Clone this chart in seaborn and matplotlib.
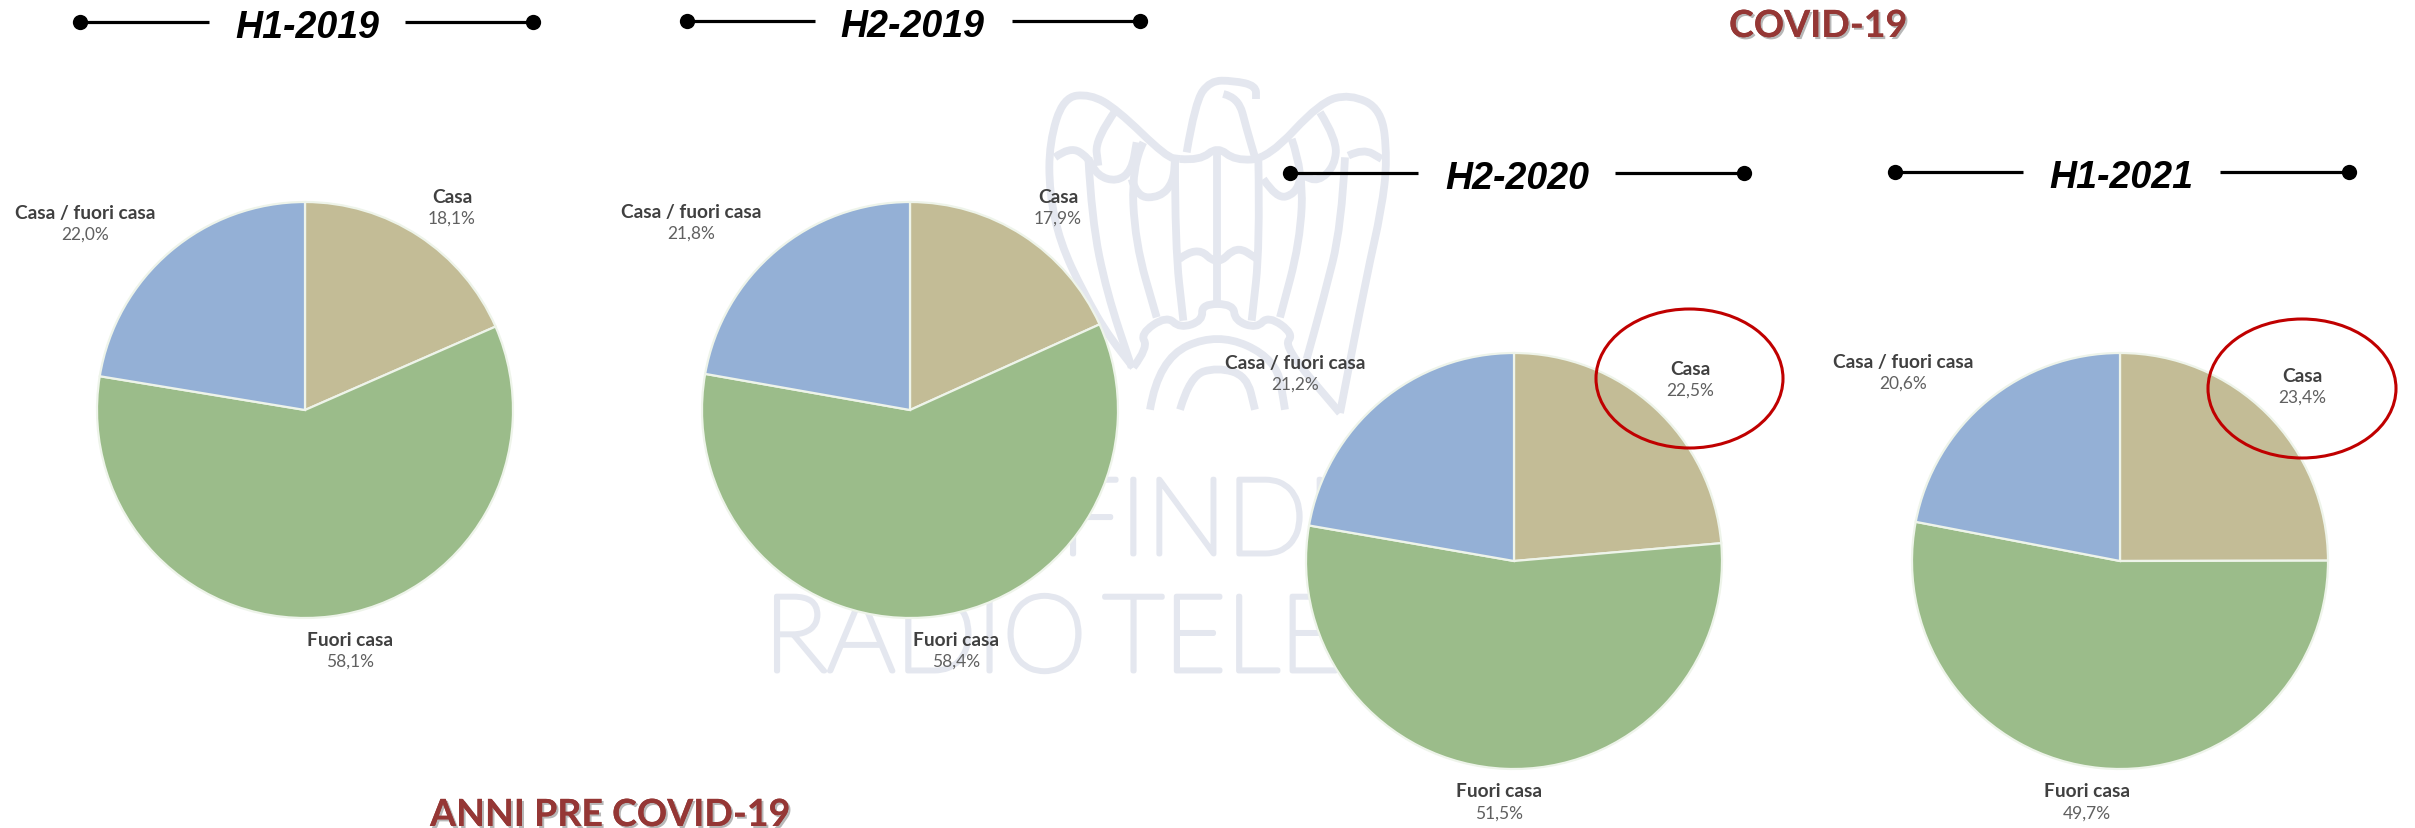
import matplotlib
matplotlib.use("Agg")
import matplotlib.pyplot as plt
import matplotlib.patheffects as pe
from matplotlib.patches import Ellipse, PathPatch
from matplotlib.path import Path
import seaborn as sns

sns.set_theme(style="white")

# ---- data ----
periods = ["H1-2019", "H2-2019", "H2-2020", "H1-2021"]
segments = ["Casa", "Fuori casa", "Casa / fuori casa"]
casa = [18.1, 17.9, 22.5, 23.4]
fuori_casa = [58.1, 58.4, 51.5, 49.7]
casa_fuori = [22.0, 21.8, 21.2, 20.6]
group_labels = ["COVID-19", "ANNI PRE COVID-19"]
colors = sns.color_palette(["#C3BC96", "#9BBC8A", "#94B0D6"])

# ---- layout (pixels of the 2415x829 canvas) ----
W, H = 2415, 829
centers = [(305, 411), (910, 411), (1514, 562), (2120, 562)]
R = 208
header_y = [23, 22, 174, 173]
header_dots = [(80, 533), (687, 1140), (1290, 1744), (1895, 2349)]
header_gap = [(209, 405), (815, 1012), (1418, 1615), (2023, 2220)]
header_text_x = [307, 912, 1517, 2121]
label_pos = [
    [(452, 197), (350, 640), (85, 213)],
    [(1058, 197), (956, 640), (691, 212)],
    [(1690, 369), (1499, 792), (1295, 363)],
    [(2302, 376), (2087, 792), (1903, 362)],
]
ellipses = [(1689.5, 379.5, 187, 139), (2302, 389.5, 188, 139)]
VALUE_DY = 22

WM = "#E4E7EF"
logo_strokes = [
    [(340, 925), (270, 840), (190, 700), (120, 550), (88, 400), (88, 250), (130, 115), (210, 105), (290, 150), (440, 295), (480, 300)],
    [(105, 295), (150, 262), (205, 295), (232, 350), (290, 368), (335, 335), (350, 250)],
    [(290, 150), (225, 240), (235, 320)],
    [(205, 295), (215, 480), (260, 700), (335, 925)],
    [(370, 250), (335, 320), (345, 550), (410, 775)],
    [(335, 360), (350, 415), (420, 415), (460, 370), (465, 300)],
    [(465, 300), (465, 560), (490, 785)],
    [(480, 300), (540, 305), (592, 262), (645, 305), (745, 298), (900, 130), (990, 105), (1085, 150), (1102, 300), (1085, 450), (1040, 650), (960, 1062)],
    [(592, 280), (592, 730)],
    [(715, 300), (720, 560), (695, 785)],
    [(815, 240), (850, 340), (840, 550), (780, 775)],
    [(730, 360), (770, 420), (825, 405), (845, 350)],
    [(900, 160), (950, 240), (945, 320), (895, 368), (850, 350)],
    [(975, 295), (965, 500), (910, 720), (860, 900)],
    [(985, 290), (1030, 268), (1085, 300)],
    [(500, 280), (525, 130), (570, 65), (640, 65), (708, 80), (708, 120)],
    [(610, 105), (655, 115), (680, 210), (705, 295)],
    [(478, 600), (530, 560), (592, 620), (650, 560), (712, 600)],
    [(340, 925), (385, 865), (360, 825), (440, 770), (480, 808), (548, 785), (545, 735), (640, 735), (645, 785), (710, 808), (745, 770), (822, 825), (790, 862), (960, 1062)],
    [(390, 1052), (415, 900), (592, 820), (770, 900), (795, 1052)],
    [(480, 1052), (510, 950), (592, 925), (680, 950), (705, 1052)],
]


def logo_path(stroke):
    pts = [(1020 + x / 3, 60 + y / 3) for x, y in stroke]
    verts, codes = [pts[0]], [Path.MOVETO]
    for i in range(1, len(pts) - 1):
        mid = ((pts[i][0] + pts[i + 1][0]) / 2, (pts[i][1] + pts[i + 1][1]) / 2)
        verts += [pts[i], mid]
        codes += [Path.CURVE3, Path.CURVE3]
    verts.append(pts[-1])
    codes.append(Path.LINETO)
    return Path(verts, codes)


fig = plt.figure(figsize=(W / 100, H / 100), dpi=100, facecolor="white")


def pixel_axes(zorder):
    ax = fig.add_axes([0, 0, 1, 1], zorder=zorder)
    ax.set_xlim(0, W)
    ax.set_ylim(H, 0)
    ax.axis("off")
    ax.patch.set_alpha(0)
    return ax


# watermark behind the pies
bg = pixel_axes(0)
for stroke in logo_strokes:
    bg.add_patch(PathPatch(logo_path(stroke), fill=False, ec=WM, lw=5.6, capstyle="butt", joinstyle="round"))
thick = [pe.withStroke(linewidth=3.5, foreground=WM)]
wm_kw = dict(color=WM, family="Lato", weight="light", fontsize=77, ha="left", va="baseline", path_effects=thick)
bg.text(1060, 555, "FINDU", **wm_kw)
bg.text(764, 672, "RADIO", **wm_kw)
bg.text(1103, 672, "TELEV", **wm_kw)

# pies
for i, (cx, cy) in enumerate(centers):
    ax = fig.add_axes([(cx - R) / W, 1 - (cy + R) / H, 2 * R / W, 2 * R / H], zorder=1)
    ax.pie(
        [casa[i], fuori_casa[i], casa_fuori[i]],
        colors=colors,
        startangle=90,
        counterclock=False,
        radius=1,
        wedgeprops={"edgecolor": "#EEF4EA", "linewidth": 1.6},
    )
    ax.set_xlim(-1, 1)
    ax.set_ylim(-1, 1)
    ax.patch.set_alpha(0)

# overlay
top = pixel_axes(2)
for i, period in enumerate(periods):
    y = header_y[i]
    d0, d1 = header_dots[i]
    g0, g1 = header_gap[i]
    top.plot([d0, g0], [y, y], color="black", lw=2.3, solid_capstyle="butt")
    top.plot([g1, d1], [y, y], color="black", lw=2.3, solid_capstyle="butt")
    top.plot([d0, d1], [y, y], ls="none", marker="o", ms=11, color="black", mew=0)
    top.text(header_text_x[i], y + 15, period, family="Liberation Sans", weight="bold", style="italic",
             fontsize=27, color="black", ha="center", va="baseline")
    vals = [casa[i], fuori_casa[i], casa_fuori[i]]
    for seg, val, (lx, ly) in zip(segments, vals, label_pos[i]):
        top.text(lx, ly, seg, family="Lato", weight="bold", fontsize=13.8, color="#404040", ha="center", va="center")
        top.text(lx, ly + VALUE_DY, f"{val:.1f}%".replace(".", ","), family="Lato", fontsize=12.5,
                 color="#606060", ha="center", va="center")

for ex, ey, ew, eh in ellipses:
    top.add_patch(Ellipse((ex, ey), ew, eh, fill=False, ec="#C00000", lw=2.2))

shadow = [pe.withSimplePatchShadow(offset=(1.5, -1.5), shadow_rgbFace="#999999", alpha=0.7), pe.Normal()]
top.text(1818, 38, group_labels[0], family="Lato", weight="bold", fontsize=27, color="#953735", ha="center",
         va="baseline", path_effects=shadow)
top.text(610, 827, group_labels[1], family="Lato", weight="bold", fontsize=27, color="#953735", ha="center",
         va="baseline", path_effects=shadow)

fig.savefig("out.png", dpi=100)
